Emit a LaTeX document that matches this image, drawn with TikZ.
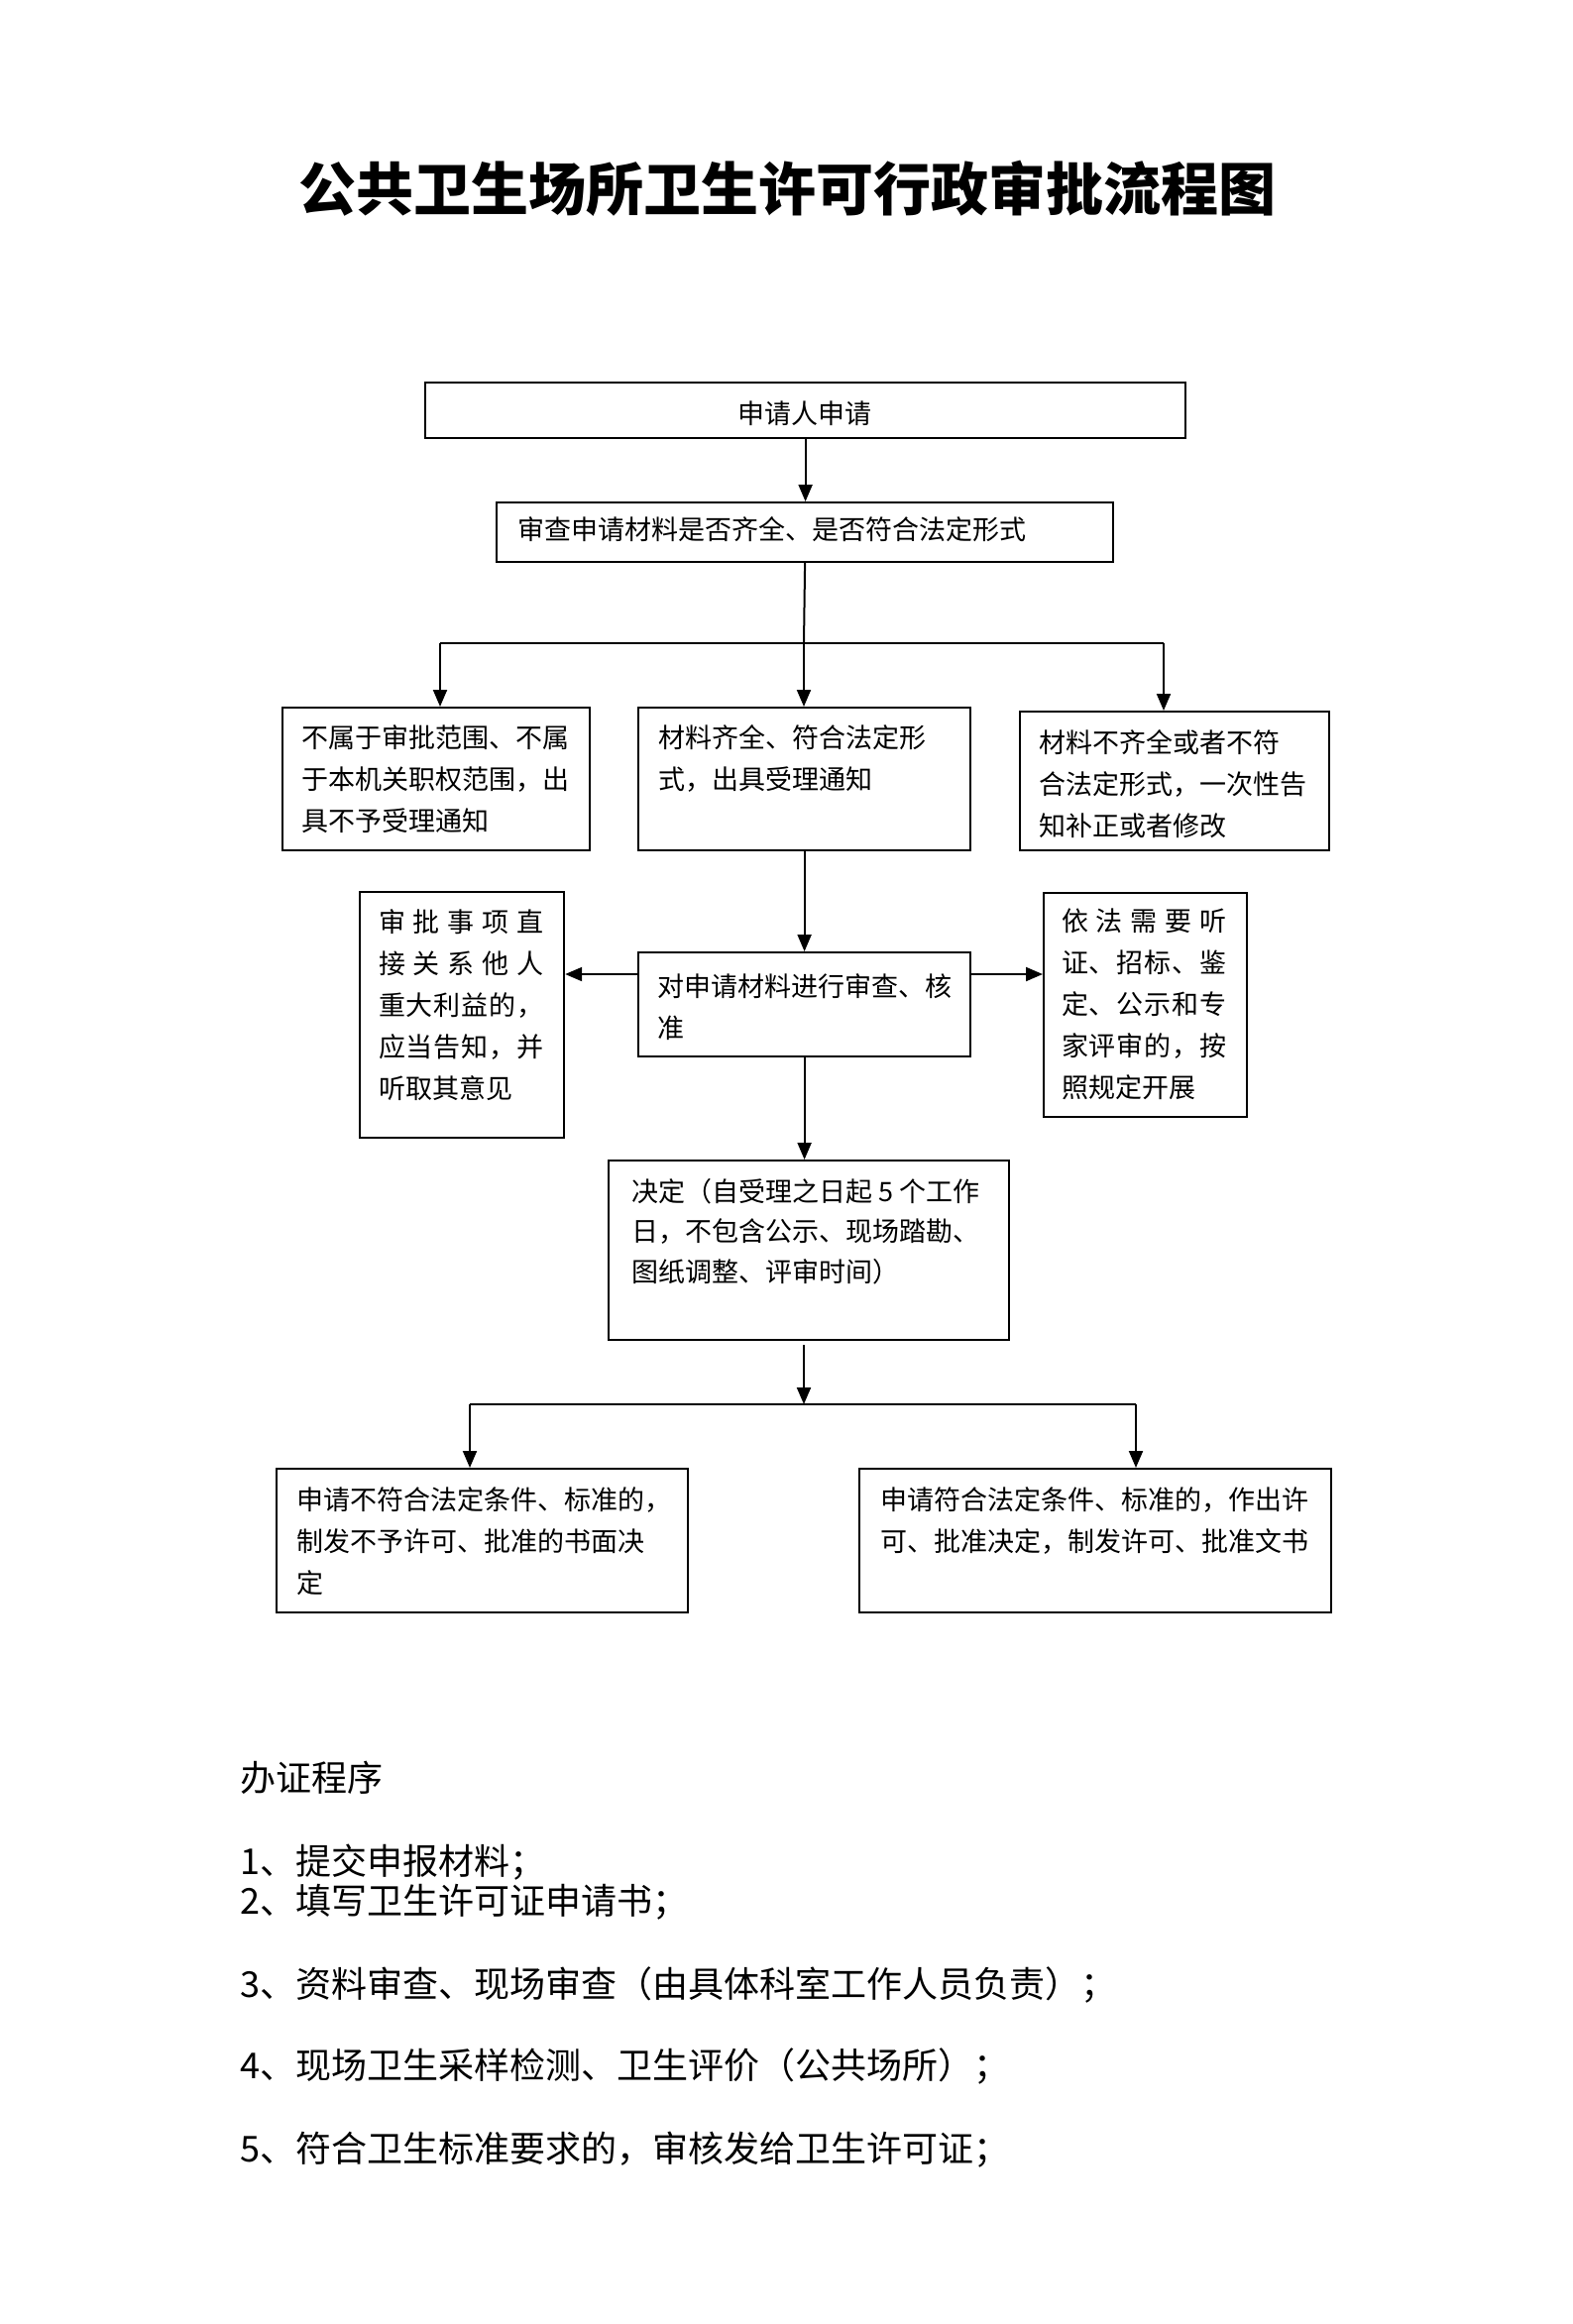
\documentclass[tikz,border=0pt]{standalone}
\usepackage{fontspec}
\setmainfont{Noto Sans CJK SC}
\usetikzlibrary{arrows.meta}
\begin{document}
\begin{tikzpicture}[x=1pt,y=-1pt,
  box/.style={draw, line width=2.2pt, inner sep=0pt, anchor=north west},
  conn/.style={line width=2pt},
  arr/.style={line width=2pt, -{Triangle[length=17pt,width=14pt]}},
  txt/.style={inner sep=0pt, anchor=north west, align=left, font=\fontsize{27}{42}\selectfont},
  one/.style={inner sep=0pt, font=\fontsize{27}{42}\selectfont},
  list/.style={anchor=base west, inner sep=0pt, font=\fontsize{36}{40}\selectfont},
]
\path[fill=white, use as bounding box] (0,0) rectangle (1587,2345);

% title
\node[inner sep=0pt, font=\fontsize{58}{60}\selectfont\bfseries] (title) at (794,190) {公共卫生场所卫生许可行政审批流程图};

% boxes
\node[box, minimum width=767pt, minimum height=56pt] (b1) at (428,385) {};
\node[box, minimum width=622pt, minimum height=60pt] (b2) at (500,506) {};
\node[box, minimum width=310pt, minimum height=144pt] (b3) at (284,713) {};
\node[box, minimum width=335pt, minimum height=144pt] (b4) at (643,713) {};
\node[box, minimum width=312pt, minimum height=140pt] (b5) at (1028,717) {};
\node[box, minimum width=335pt, minimum height=105pt] (b6) at (643,960) {};
\node[box, minimum width=206pt, minimum height=248pt] (b7) at (362,899) {};
\node[box, minimum width=205pt, minimum height=226pt] (b8) at (1052,900) {};
\node[box, minimum width=404pt, minimum height=181pt] (b9) at (613,1170) {};
\node[box, minimum width=415pt, minimum height=145pt] (b10) at (278,1481) {};
\node[box, minimum width=476pt, minimum height=145pt] (b11) at (866,1481) {};

% texts in boxes
\node[one] (t1) at (812,417) {申请人申请};
\node[one, anchor=west] (t2) at (522,534) {审查申请材料是否齐全、是否符合法定形式};
\node[txt] (t3) at (304,731) {不属于审批范围、不属\\于本机关职权范围，出\\具不予受理通知};
\node[txt] (t4) at (664,731) {材料齐全、符合法定形\\式，出具受理通知};
\node[txt] (t5) at (1048,736) {材料不齐全或者不符\\合法定形式，一次性告\\知补正或者修改};
\node[txt] (t6) at (663,982) {对申请材料进行审查、核\\准};
\node[txt] (t7) at (382,917) {\makebox[166pt][s]{审\hfil 批\hfil 事\hfil 项\hfil 直}\\
\makebox[166pt][s]{接\hfil 关\hfil 系\hfil 他\hfil 人}\\
\makebox[166pt][s]{重\hfil 大\hfil 利\hfil 益\hfil 的\hfil ，}\\
\makebox[166pt][s]{应\hfil 当\hfil 告\hfil 知\hfil ，\hfil 并}\\
听取其意见};
\node[txt] (t8) at (1071,917) {\makebox[166pt][s]{依\hfil 法\hfil 需\hfil 要\hfil 听}\\
\makebox[166pt][s]{证\hfil 、\hfil 招\hfil 标\hfil 、\hfil 鉴}\\
\makebox[166pt][s]{定\hfil 、\hfil 公\hfil 示\hfil 和\hfil 专}\\
\makebox[166pt][s]{家\hfil 评\hfil 审\hfil 的\hfil ，\hfil 按}\\
照规定开展};
\node[txt, font=\fontsize{27}{40.5}\selectfont] (t9) at (637,1189) {决定（自受理之日起 5 个工作\\日，不包含公示、现场踏勘、\\图纸调整、评审时间）};
\node[txt] (t10) at (299,1500) {申请不符合法定条件、标准的，\\制发不予许可、批准的书面决\\定};
\node[txt] (t11) at (888,1500) {申请符合法定条件、标准的，作出许\\可、批准决定，制发许可、批准文书};

% connectors
\draw[arr] (b1.south) -- (b1.south |- b2.north);
\coordinate (j1) at (811,649);
\coordinate (j1l) at (444,649);
\coordinate (j1r) at (1174,649);
\draw[conn] (b2.south) -- (j1);
\draw[conn] (j1l) -- (j1r);
\draw[arr] (j1l) -- (j1l |- b3.north);
\draw[arr] (j1) -- (j1 |- b4.north);
\draw[arr] (j1r) -- (j1r |- b5.north);
\draw[arr] (b4.south) -- (b4.south |- b6.north);
\coordinate (m) at (0,983);
\draw[arr] (b6.west |- m) -- (b7.east |- m);
\draw[arr] (b6.east |- m) -- (b8.west |- m);
\draw[arr] (b6.south) -- (b6.south |- b9.north);
\coordinate (j2) at (811,1417);
\coordinate (j2l) at (474,1417);
\coordinate (j2r) at (1146,1417);
\draw[arr, shorten <=4pt] (j2 |- b9.south) -- (j2);
\draw[conn] (j2l) -- (j2r);
\draw[arr] (j2l) -- (j2l |- b10.north);
\draw[arr] (j2r) -- (j2r |- b11.north);

% list below
\node[list] (l0) at (242,1807) {办证程序};
\node[list] (l1) at (242,1891) {1、提交申报材料；};
\node[list] (l2) at (242,1931) {2、填写卫生许可证申请书；};
\node[list] (l3) at (242,2015) {3、资料审查、现场审查（由具体科室工作人员负责）；};
\node[list] (l4) at (242,2097) {4、现场卫生采样检测、卫生评价（公共场所）；};
\node[list] (l5) at (242,2181) {5、符合卫生标准要求的，审核发给卫生许可证；};
\end{tikzpicture}
\end{document}
